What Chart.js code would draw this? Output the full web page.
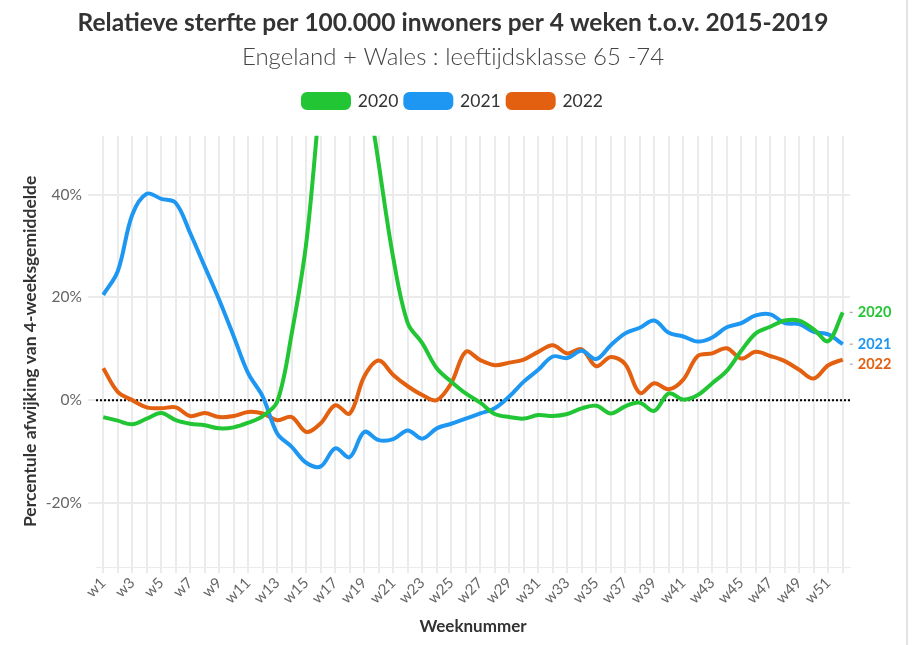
<!DOCTYPE html>
<html>
<head>
<meta charset="utf-8">
<script src="https://cdn.jsdelivr.net/npm/chart.js@4.4.1/dist/chart.umd.min.js"></script>
<style>
  html, body { margin: 0; padding: 0; background: #fff; }
  #wrap { position: relative; width: 916px; height: 645px; }
  #rand { position: absolute; left: 906px; top: 0; width: 10px; height: 645px; border-left: 2px solid #e4e4e4; box-sizing: border-box; }
</style>
</head>
<body>
<div id="wrap">
  <canvas id="sterfteChart" width="916" height="645"></canvas>
  <div id="rand"></div>
</div>
<script>
// weeknummers
const weken = ['w1','w2','w3','w4','w5','w6','w7','w8','w9','w10','w11','w12','w13','w14','w15','w16','w17','w18','w19','w20',
  'w21','w22','w23','w24','w25','w26','w27','w28','w29','w30','w31','w32','w33','w34','w35','w36','w37','w38','w39','w40',
  'w41','w42','w43','w44','w45','w46','w47','w48','w49','w50','w51','w52'];

// afwijking in % t.o.v. 4-weeksgemiddelde 2015-2019
const jaar2020 = [-3.3,-4.0,-4.7,-3.6,-2.5,-3.9,-4.6,-4.9,-5.5,-5.3,-4.4,-3.1,-0.3,13.0,30.6,60,85,88,65,46,
  27.7,15.0,11.1,6.2,3.6,1.3,-0.5,-2.7,-3.3,-3.6,-2.9,-3.1,-2.7,-1.6,-1.1,-2.6,-1.2,-0.5,-2.1,1.3,
  0.1,1.0,3.3,5.7,9.6,13.0,14.3,15.5,15.5,13.8,11.5,17.1];
const jaar2021 = [20.5,25.1,36.1,40.2,39.2,38.4,32.5,26.0,19.5,12.4,5.2,0.7,-6.5,-9.1,-12.2,-12.9,-9.4,-11.1,-6.2,-7.8,
  -7.6,-5.9,-7.5,-5.5,-4.6,-3.6,-2.6,-1.6,0.7,3.6,5.9,8.5,8.2,9.6,8.0,10.7,13.0,14.1,15.5,13.1,
  12.4,11.4,12.2,14.2,15.0,16.5,16.7,15.0,14.8,13.3,12.8,10.9];
const jaar2022 = [6.2,1.6,0.0,-1.4,-1.6,-1.4,-3.1,-2.5,-3.3,-3.1,-2.3,-2.6,-3.9,-3.3,-6.2,-4.5,-1.0,-2.6,4.6,7.7,
  4.9,2.7,1.0,0.0,3.3,9.4,7.8,6.8,7.3,7.9,9.4,10.7,9.1,9.9,6.6,8.4,7.0,1.4,3.3,2.1,
  4.0,8.6,9.1,10.1,8.1,9.4,8.6,7.6,5.9,4.2,6.8,7.9];

const yTicks = [-20, 0, 20, 40];

const groen = '#22c534';
const blauw = '#1d97f1';
const oranje = '#e2600f';
const FONT = 'Lato, "Noto Sans", sans-serif';

Chart.defaults.font.family = FONT;
Chart.defaults.color = '#666';

// extra ruimte onder de legenda
const legendaRuimte = {
  id: 'legendaRuimte',
  beforeLayout(chart) {
    const lg = chart.legend;
    if (lg && !lg._extra) {
      const origFit = lg.fit.bind(lg);
      lg.fit = function () { origFit(); this.height += 16; };
      lg._extra = true;
    }
  }
};

// stippellijn op 0%
const nulLijn = {
  id: 'nulLijn',
  beforeDatasetsDraw(chart) {
    const {ctx, chartArea, scales} = chart;
    const y = scales.y.getPixelForValue(0);
    ctx.save();
    ctx.strokeStyle = '#000';
    ctx.lineWidth = 2;
    ctx.setLineDash([2, 2]);
    ctx.beginPath();
    ctx.moveTo(chartArea.left, y);
    ctx.lineTo(chartArea.right, y);
    ctx.stroke();
    ctx.restore();
  }
};

// labels aan het eind van de lijnen
const eindLabels = {
  id: 'eindLabels',
  afterDatasetsDraw(chart) {
    const ctx = chart.ctx;
    const items = chart.data.datasets.map((ds, i) => {
      const meta = chart.getDatasetMeta(i);
      const pt = meta.data[meta.data.length - 1];
      return {x: pt.x, y: pt.y, ly: pt.y, tekst: ds.label, kleur: ds.borderColor};
    }).sort((a, b) => a.y - b.y);
    for (let k = 1; k < items.length; k++) {
      if (items[k].ly - items[k - 1].ly < 20) items[k].ly = items[k - 1].ly + 20;
    }
    ctx.save();
    ctx.font = 'bold 14.5px ' + FONT;
    ctx.textBaseline = 'middle';
    items.forEach(it => {
      ctx.strokeStyle = '#999';
      ctx.lineWidth = 1;
      ctx.beginPath();
      ctx.moveTo(it.x + 7, it.ly);
      ctx.lineTo(it.x + 10, it.ly);
      ctx.stroke();
      ctx.fillStyle = it.kleur;
      ctx.fillText(it.tekst, it.x + 15, it.ly);
    });
    ctx.restore();
  }
};

const lijn = (label, data, kleur) => ({
  label: label,
  data: data,
  borderColor: kleur,
  backgroundColor: kleur,
  borderWidth: 4,
  pointRadius: 0,
  tension: 0.35,
  fill: false,
  yAxisID: 'y'
});

new Chart(document.getElementById('sterfteChart'), {
  type: 'line',
  data: {
    labels: weken,
    datasets: [
      lijn('2020', jaar2020, groen),
      lijn('2021', jaar2021, blauw),
      lijn('2022', jaar2022, oranje)
    ]
  },
  options: {
    responsive: false,
    animation: false,
    layout: { padding: { left: 0, right: 10, top: 0, bottom: 8 } },
    plugins: {
      tooltip: { enabled: false },
      title: {
        display: true,
        text: 'Relatieve sterfte per 100.000 inwoners per 4 weken t.o.v. 2015-2019',
        color: '#333',
        font: { size: 24.5, weight: 'bold' },
        padding: { top: 8, bottom: 3 }
      },
      subtitle: {
        display: true,
        text: 'Engeland + Wales : leeftijdsklasse 65 -74',
        color: '#444',
        font: { size: 24, weight: 300 },
        padding: { top: 2, bottom: 14 }
      },
      legend: {
        display: true,
        labels: {
          color: '#333',
          font: { size: 17.5 },
          boxWidth: 46,
          boxHeight: 14,
          useBorderRadius: true,
          borderRadius: 4,
          padding: 7
        }
      }
    },
    scales: {
      x: {
        offset: true,
        afterFit(scale) { scale.height = 70; },
        grid: { color: '#ebebeb', lineWidth: 2, tickLength: 6, tickColor: '#ebebeb' },
        border: { display: true, color: '#ebebeb' },
        ticks: {
          autoSkip: false,
          minRotation: 45,
          maxRotation: 45,
          padding: 1,
          color: '#666',
          font: { size: 15 },
          callback: (v, i) => (i % 2 === 0 ? weken[i] : '')
        },
        title: {
          display: true,
          text: 'Weeknummer',
          color: '#333',
          font: { size: 17, weight: 'bold' },
          padding: { top: 2, bottom: 0 }
        }
      },
      y: {
        min: -32.5,
        max: 51.5,
        afterFit(scale) { scale.width = 96; },
        afterBuildTicks(scale) {
          scale.ticks = yTicks.map(v => ({ value: v }));
        },
        grid: { color: '#ebebeb', lineWidth: 2, tickLength: 8, tickColor: '#ebebeb' },
        border: { display: false },
        ticks: {
          padding: 6,
          color: '#666',
          font: { size: 15.5 },
          callback: v => v + '%'
        },
        title: {
          display: true,
          text: 'Percentule afwijking van 4-weeksgemiddelde',
          color: '#333',
          font: { size: 17.5, weight: 'bold' },
          padding: { top: 20, bottom: 0 }
        }
      },
      rechts: {
        position: 'right',
        min: -32.5,
        max: 51.5,
        afterFit(scale) { scale.width = 56; },
        grid: { display: false, drawOnChartArea: false },
        border: { display: false },
        ticks: { display: false }
      }
    }
  },
  plugins: [legendaRuimte, nulLijn, eindLabels]
});
</script>
</body>
</html>
